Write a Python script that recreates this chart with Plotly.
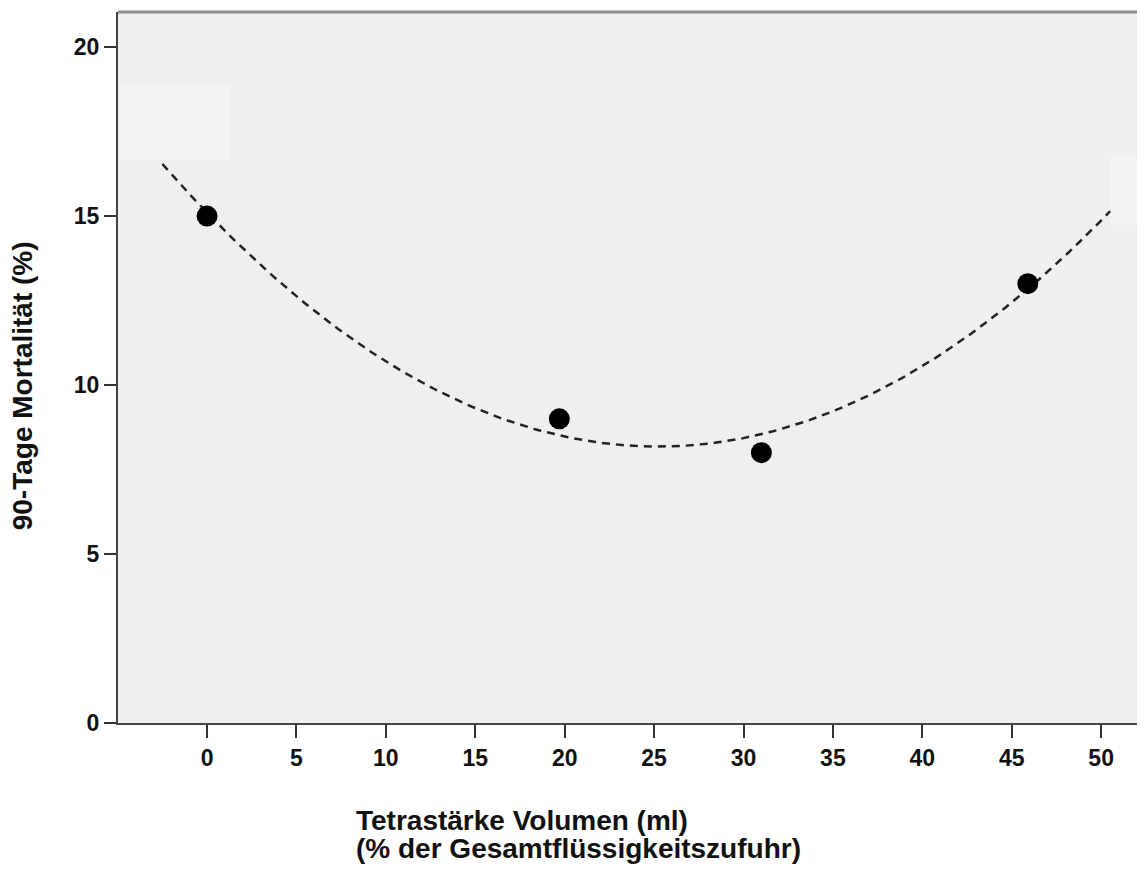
import numpy as np
import plotly.graph_objects as go

# Data
tetra_volume_pct = [0.0, 19.7, 31.0, 45.9]
mortality_pct = [15.0, 9.0, 8.0, 13.0]

x_ticks = [0, 5, 10, 15, 20, 25, 30, 35, 40, 45, 50]
y_ticks = [0, 5, 10, 15, 20]

fit_start, fit_end = -2.5, 50.5

# Quadratic regression line through the points
coef = np.polyfit(tetra_volume_pct, mortality_pct, 2)
fit_x = np.linspace(fit_start, fit_end, 200)
fit_y = np.polyval(coef, fit_x)

font_family = "Liberation Sans, Arial, sans-serif"

fig = go.Figure()
fig.add_trace(go.Scatter(
    x=fit_x, y=fit_y, mode="lines",
    line=dict(color="#222222", width=2.5, dash="8px,6px"),
    hoverinfo="skip", showlegend=False,
))
fig.add_trace(go.Scatter(
    x=tetra_volume_pct, y=mortality_pct, mode="markers",
    marker=dict(color="black", size=21),
    showlegend=False,
))

fig.update_layout(
    width=1145, height=870,
    margin=dict(l=110, r=0, t=4, b=155),
    paper_bgcolor="white",
    plot_bgcolor="#efefef",
    font=dict(family=font_family, color="#111111"),
    xaxis=dict(
        range=[-4.98, 52.9],
        tickvals=x_ticks,
        ticktext=[str(v) for v in x_ticks],
        showgrid=False, zeroline=False,
        showline=True, linecolor="#444444", linewidth=2,
        ticks="outside", ticklen=13, tickwidth=2, tickcolor="#333333",
        tickfont=dict(family=font_family, size=23, color="#111111", weight="bold"),
    ),
    yaxis=dict(
        range=[0, 21.04],
        tickvals=y_ticks,
        ticktext=[str(v) for v in y_ticks],
        showgrid=False, zeroline=False,
        showline=True, linecolor="#444444", linewidth=2,
        ticks="outside", ticklen=12, tickwidth=2, tickcolor="#333333",
        tickfont=dict(family=font_family, size=23, color="#111111", weight="bold"),
    ),
    shapes=[
        dict(type="rect", xref="paper", yref="paper", x0=0.002, x1=0.108,
             y0=0.792, y1=0.897, fillcolor="#f3f3f4", line=dict(width=0),
             layer="below"),
        dict(type="rect", xref="paper", yref="paper", x0=0.959, x1=1.0,
             y0=0.700, y1=0.799, fillcolor="#f3f3f4", line=dict(width=0),
             layer="below"),
        dict(type="line", xref="paper", yref="paper", x0=0, x1=1, y0=1, y1=1,
             line=dict(color="#8c8c8c", width=3)),
    ],
    annotations=[
        dict(
            text="<b>Tetrastärke Volumen (ml)</b>",
            xref="paper", yref="paper", x=0.228, y=-0.112,
            xanchor="left", yanchor="top", align="left", showarrow=False,
            font=dict(family=font_family, size=28, color="#111111"),
        ),
        dict(
            text="<b>(% der Gesamtflüssigkeitszufuhr)</b>",
            xref="paper", yref="paper", x=0.228, y=-0.152,
            xanchor="left", yanchor="top", align="left", showarrow=False,
            font=dict(family=font_family, size=28, color="#111111"),
        ),
        dict(
            text="<b>90-Tage Mortalität (%)</b>",
            xref="paper", yref="paper", x=-0.0915, y=0.474,
            xanchor="center", yanchor="middle", textangle=-90, showarrow=False,
            font=dict(family=font_family, size=28, color="#111111"),
        ),
    ],
)

fig.write_html("out.html")
